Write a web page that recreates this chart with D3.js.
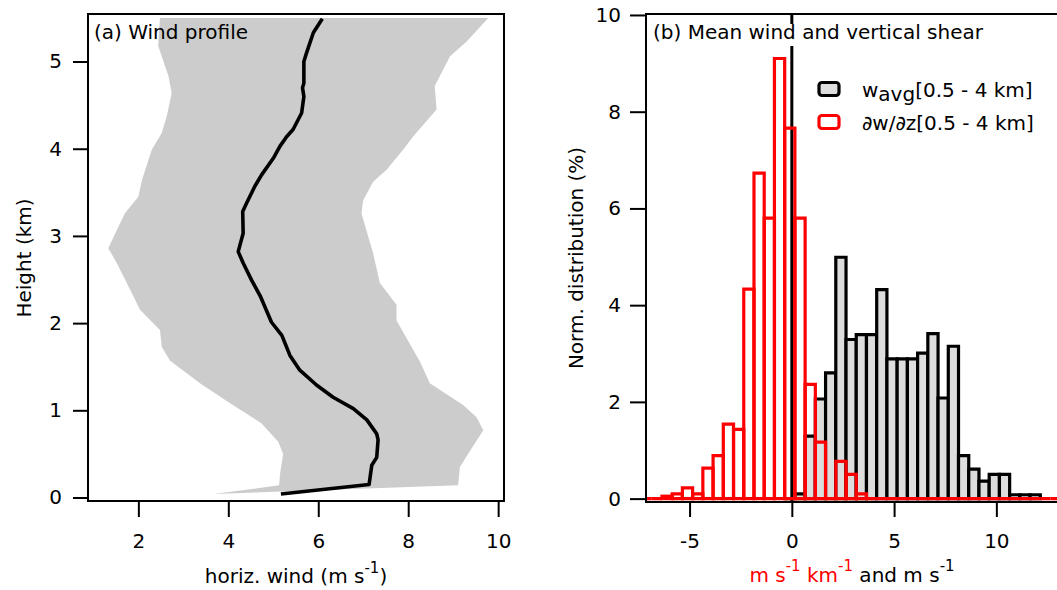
<!DOCTYPE html>
<html><head><meta charset="utf-8">
<script src="https://cdn.jsdelivr.net/npm/d3@7"></script>
<style>
body{margin:0;background:#fff}
svg{display:block}
text{font-family:"DejaVu Sans",sans-serif;font-size:20px;fill:#000}
</style>
</head><body>
<svg id="chart" width="1057" height="590"></svg>
<script>
// ---------- Panel (a): wind profile ----------
const meanHeight = [5.49,5.33,5.10,5.00,4.75,4.70,4.60,4.41,4.22,4.14,4.03,3.89,3.70,3.57,3.38,3.28,3.03,2.82,2.69,2.49,2.30,2.01,1.86,1.77,1.63,1.46,1.29,1.15,1.02,0.89,0.73,0.66,0.46,0.37,0.15,0.04];
const meanWind   = [6.09,5.89,5.74,5.68,5.68,5.65,5.68,5.63,5.44,5.30,5.15,5.00,4.74,4.59,4.41,4.32,4.33,4.22,4.33,4.52,4.72,4.96,5.19,5.26,5.37,5.59,5.96,6.33,6.78,7.08,7.30,7.33,7.30,7.19,7.13,5.17];
const lowHeight  = [5.50,5.18,4.83,4.64,4.37,4.18,3.99,3.64,3.45,3.26,2.86,2.69,2.38,2.15,1.92,1.73,1.57,1.31,1.08,0.85,0.64,0.50,0.27,0.14,0.04];
const lowWind    = [2.48,2.44,2.67,2.74,2.63,2.52,2.30,2.08,2.00,1.70,1.33,1.52,1.82,2.04,2.48,2.52,2.70,3.37,4.04,4.74,5.11,5.22,5.15,5.13,3.67];
const highHeight = [5.50,5.23,5.06,4.72,4.45,4.14,3.99,3.76,3.62,3.41,3.26,2.80,2.46,2.21,2.03,1.56,1.31,1.06,0.92,0.77,0.50,0.35,0.14];
const highWind   = [9.78,9.30,8.93,8.59,8.63,8.11,7.89,7.52,7.22,7.00,6.96,7.22,7.37,7.74,7.74,8.26,8.48,9.22,9.52,9.67,9.33,9.15,9.11];
const windTicksA   = [2,4,6,8,10];
const heightTicksA = [0,1,2,3,4,5];

// ---------- Panel (b): histograms ----------
const binWidth = 0.5;
const shearBinStart = -7.35;
const shearPct = [0,0,0.05,0.10,0.22,0.10,0.63,0.89,1.54,1.43,4.33,6.73,5.80,9.10,7.66,5.80,2.36,1.17,0,0.77,0.50,0.10,
                  0,0,0,0,0,0,0,0,0,0,0,0,0,0,0,0,0,0,0,0];
const windBinStart = -0.35;
const windPct = [0,0.10,1.29,2.06,2.60,4.99,3.29,3.39,3.39,4.32,2.89,2.89,2.89,3.01,3.41,2.08,3.15,0.89,0.61,0.36,0.50,0.50,0.08,0.08,0.08];
const xTicksB = [-5,0,5,10];
const yTicksB = [0,2,4,6,8,10];

const svg = d3.select("#chart");
const plainFmt = d => String(d);

// ---------- scales ----------
const xa = d3.scaleLinear().domain([0.88, 10.13]).range([88, 504]);
const ya = d3.scaleLinear().domain([-0.04, 5.545]).range([501, 14]);
const xb = d3.scaleLinear().domain([-7.13, 13.2]).range([646, 1061.8]);
const yb = d3.scaleLinear().domain([-0.07, 10.02]).range([502, 14]);

// ================= Panel (a) =================
const gA = svg.append("g");
const band = lowHeight.map((h,i)=>[xa(lowWind[i]), ya(h)])
  .concat(highHeight.map((h,i)=>[xa(highWind[i]), ya(h)]).reverse());
gA.append("path").attr("d", d3.line()(band) + "Z").attr("fill", "#cccccc");

gA.append("path")
  .attr("d", d3.line().x((d,i)=>xa(meanWind[i])).y((d,i)=>ya(meanHeight[i]))(meanHeight))
  .attr("fill","none").attr("stroke","#000").attr("stroke-width",3.6)
  .attr("stroke-linejoin","round").attr("stroke-linecap","butt");

gA.append("text").attr("x", 94).attr("y", 39).text("(a) Wind profile");

gA.append("rect").attr("x",88).attr("y",14).attr("width",416).attr("height",487)
  .attr("fill","none").attr("stroke","#000").attr("stroke-width",2);

gA.append("g").attr("transform","translate(0,501)")
  .call(d3.axisBottom(xa).tickValues(windTicksA).tickSize(16).tickPadding(17).tickFormat(plainFmt));
gA.append("g").attr("transform","translate(88,0)")
  .call(d3.axisLeft(ya).tickValues(heightTicksA).tickSize(15).tickPadding(11).tickFormat(plainFmt));

gA.append("text").attr("x", 296).attr("y", 583).attr("text-anchor","middle")
  .call(t=>{
    t.append("tspan").text("horiz. wind (m s");
    t.append("tspan").attr("font-size",15).attr("dy",-10).text("-1");
    t.append("tspan").attr("dy",10).text(")");
  });
gA.append("text").attr("transform","translate(31,258) rotate(-90)").attr("text-anchor","middle").text("Height (km)");

// ================= Panel (b) =================
const gB = svg.append("g");
svg.append("defs").append("clipPath").attr("id","clipB")
  .append("rect").attr("x",646).attr("y",14).attr("width",420).attr("height",488);
const plotB = gB.append("g").attr("clip-path","url(#clipB)");

const barPath = (start, i, v) => {
  const x0 = xb(start + i*binWidth), x1 = xb(start + (i+1)*binWidth);
  const y0 = yb(0), y1 = yb(v);
  return `M${x0},${y0}V${y1}H${x1}V${y0}Z`;
};

plotB.append("g").selectAll("path").data(windPct).join("path")
  .attr("d",(v,i)=>barPath(windBinStart,i,v))
  .attr("fill","#dddddd").attr("stroke","#000").attr("stroke-width",3.2);

plotB.append("line").attr("x1",xb(0)).attr("x2",xb(0)).attr("y1",14).attr("y2",24)
  .attr("stroke","#000").attr("stroke-width",3);
plotB.append("line").attr("x1",xb(0)).attr("x2",xb(0)).attr("y1",46).attr("y2",502)
  .attr("stroke","#000").attr("stroke-width",3);

plotB.append("g").selectAll("path").data(shearPct).join("path")
  .attr("d",(v,i)=>barPath(shearBinStart,i,v))
  .attr("fill","none").attr("stroke","#ff0000").attr("stroke-width",3.2);

gB.append("text").attr("x", 653).attr("y", 39).text("(b) Mean wind and vertical shear");

// legend
const leg = gB.append("g");
leg.append("rect").attr("x",819).attr("y",82.5).attr("width",20).attr("height",13).attr("rx",3)
  .attr("fill","#dddddd").attr("stroke","#000").attr("stroke-width",3.2);
leg.append("rect").attr("x",819).attr("y",115.5).attr("width",20).attr("height",13).attr("rx",3)
  .attr("fill","#fff").attr("stroke","#ff0000").attr("stroke-width",3.2);
leg.append("text").attr("x",862).attr("y",97).call(t=>{
  t.append("tspan").text("w");
  t.append("tspan").attr("dy",4).text("avg");
  t.append("tspan").attr("dy",-4).text("[0.5 - 4 km]");
});
leg.append("text").attr("x",862).attr("y",130).text("\u2202w/\u2202z[0.5 - 4 km]");

// frame
gB.append("path").attr("d","M1070,14H646V502H1070").attr("fill","none").attr("stroke","#000").attr("stroke-width",2);

gB.append("g").attr("transform","translate(0,502)")
  .call(d3.axisBottom(xb).tickValues(xTicksB).tickSize(15).tickPadding(17).tickFormat(plainFmt));
gB.append("g").attr("transform","translate(646,0)")
  .call(d3.axisLeft(yb).tickValues(yTicksB).tickSize(16).tickPadding(9).tickFormat(plainFmt));

gB.append("text").attr("x", 852).attr("y", 582).attr("text-anchor","middle")
  .call(t=>{
    t.append("tspan").attr("fill","#ff0000").text("m s");
    t.append("tspan").attr("fill","#ff0000").attr("font-size",15).attr("dy",-11).text("-1");
    t.append("tspan").attr("fill","#ff0000").attr("dy",11).text(" km");
    t.append("tspan").attr("fill","#ff0000").attr("font-size",15).attr("dy",-11).text("-1");
    t.append("tspan").attr("dy",11).text(" and m s");
    t.append("tspan").attr("font-size",15).attr("dy",-11).text("-1");
  });
gB.append("text").attr("transform","translate(583,258) rotate(-90)").attr("text-anchor","middle").text("Norm. distribution (%)");

// axis styling
svg.selectAll(".domain").remove();
svg.selectAll(".tick line").attr("stroke","#000").attr("stroke-width",2);
svg.selectAll(".tick text").attr("font-family","DejaVu Sans").attr("font-size",20).attr("fill","#000");
</script>
</body></html>
